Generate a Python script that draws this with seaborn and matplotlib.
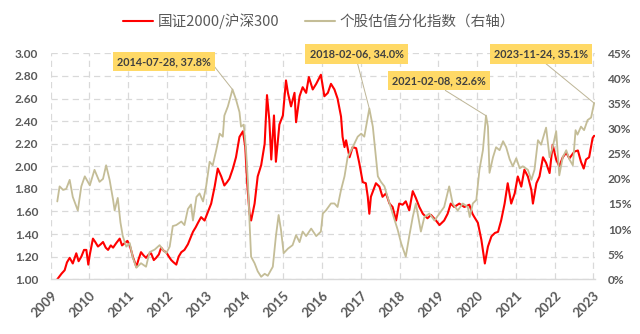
import numpy as np
import pandas as pd
import matplotlib
matplotlib.use("Agg")
import matplotlib.pyplot as plt
import seaborn as sns
from matplotlib.lines import Line2D

sns.set_theme(style="white")
plt.rcParams['font.family'] = ['Lato', 'Noto Sans CJK SC', 'DejaVu Sans']

# ---------------- data (fractional years) ----------------
red_t = [2010.05, 2010.16, 2010.24, 2010.30, 2010.37, 2010.45, 2010.54, 2010.60, 2010.67, 2010.74,
         2010.80, 2010.85, 2010.89, 2010.97, 2011.03, 2011.10, 2011.17, 2011.23, 2011.30, 2011.36,
         2011.43, 2011.49, 2011.57, 2011.66, 2011.72, 2011.79, 2011.86, 2011.92, 2012.00, 2012.09,
         2012.15, 2012.21, 2012.28, 2012.34, 2012.41, 2012.47, 2012.54, 2012.60, 2012.67, 2012.73,
         2012.80, 2012.86, 2012.93, 2012.99, 2013.05, 2013.12, 2013.18, 2013.25, 2013.33, 2013.42,
         2013.48, 2013.55, 2013.62, 2013.68, 2013.76, 2013.85, 2013.93, 2014.02, 2014.11, 2014.19,
         2014.28, 2014.36, 2014.43, 2014.49, 2014.58, 2014.66, 2014.75, 2014.84, 2014.90, 2014.95,
         2015.01, 2015.05, 2015.14, 2015.22, 2015.31, 2015.40, 2015.46, 2015.52, 2015.57, 2015.64,
         2015.69, 2015.78, 2015.87, 2015.95, 2016.00, 2016.08, 2016.17, 2016.21, 2016.30, 2016.38,
         2016.47, 2016.54, 2016.64, 2016.73, 2016.85, 2016.94, 2017.03, 2017.11, 2017.20, 2017.28,
         2017.37, 2017.41, 2017.46, 2017.50, 2017.59, 2017.67, 2017.76, 2017.84, 2017.93, 2018.01,
         2018.06, 2018.10, 2018.14, 2018.27, 2018.36, 2018.44, 2018.53, 2018.62, 2018.70, 2018.79,
         2018.87, 2018.96, 2019.04, 2019.13, 2019.22, 2019.30, 2019.39, 2019.48, 2019.60, 2019.69,
         2019.82, 2019.91, 2020.03, 2020.12, 2020.20, 2020.29, 2020.42, 2020.55, 2020.68, 2020.76,
         2020.81, 2020.90, 2020.99, 2021.08, 2021.16, 2021.25, 2021.34, 2021.42, 2021.50, 2021.59,
         2021.67, 2021.76, 2021.85, 2021.93, 2022.02, 2022.10, 2022.19, 2022.28, 2022.32, 2022.41,
         2022.49, 2022.58, 2022.66, 2022.75, 2022.83, 2022.92, 2023.00, 2023.09, 2023.18, 2023.26,
         2023.39, 2023.48, 2023.56, 2023.63, 2023.69, 2023.77, 2023.86, 2023.90]
red_v = [1.00, 1.05, 1.08, 1.15, 1.19, 1.14, 1.23, 1.16, 1.20, 1.26,
         1.26, 1.13, 1.22, 1.36, 1.33, 1.29, 1.31, 1.33, 1.28, 1.26,
         1.30, 1.28, 1.32, 1.36, 1.30, 1.32, 1.34, 1.30, 1.20, 1.11,
         1.18, 1.24, 1.21, 1.19, 1.22, 1.23, 1.17, 1.19, 1.22, 1.28,
         1.25, 1.24, 1.20, 1.17, 1.15, 1.13, 1.20, 1.24, 1.26, 1.31,
         1.36, 1.42, 1.46, 1.50, 1.55, 1.52, 1.59, 1.67, 1.82, 1.98,
         1.91, 1.83, 1.86, 1.89, 1.98, 2.08, 2.26, 2.31, 2.17, 1.85,
         1.58, 1.52, 1.67, 1.91, 2.01, 2.20, 2.63, 2.41, 2.06, 2.45,
         2.04, 2.37, 2.45, 2.76, 2.65, 2.53, 2.65, 2.39, 2.62, 2.70,
         2.65, 2.79, 2.68, 2.73, 2.81, 2.62, 2.65, 2.73, 2.68, 2.60,
         2.44, 2.26, 2.17, 2.23, 2.08, 2.17, 2.16, 2.03, 1.86, 1.85,
         1.73, 1.58, 1.73, 1.85, 1.82, 1.73, 1.76, 1.67, 1.64, 1.52,
         1.67, 1.66, 1.69, 1.61, 1.78, 1.72, 1.64, 1.58, 1.54, 1.57,
         1.52, 1.48, 1.52, 1.58, 1.67, 1.64, 1.67, 1.64, 1.66, 1.58,
         1.55, 1.50, 1.35, 1.14, 1.29, 1.38, 1.41, 1.42, 1.52, 1.67,
         1.85, 1.67, 1.76, 1.91, 1.82, 1.97, 1.91, 1.79, 1.67, 1.85,
         1.91, 2.08, 2.03, 1.94, 2.19, 2.06, 2.00, 2.08, 2.12, 2.07,
         2.13, 2.14, 2.04, 1.98, 2.06, 2.08, 2.25, 2.27]

tan_t = [2010.05, 2010.11, 2010.20, 2010.28, 2010.37, 2010.45, 2010.58, 2010.67, 2010.76, 2010.89,
         2011.01, 2011.14, 2011.23, 2011.31, 2011.40, 2011.49, 2011.53, 2011.61, 2011.68, 2011.74,
         2011.83, 2011.92, 2012.00, 2012.09, 2012.21, 2012.34, 2012.43, 2012.56, 2012.69, 2012.77,
         2012.86, 2012.95, 2013.03, 2013.12, 2013.25, 2013.33, 2013.42, 2013.50, 2013.55, 2013.64,
         2013.72, 2013.81, 2013.89, 2013.98, 2014.06, 2014.15, 2014.24, 2014.32, 2014.36, 2014.45,
         2014.57, 2014.66, 2014.75, 2014.79, 2014.86, 2014.92, 2014.97, 2015.01, 2015.05, 2015.14,
         2015.22, 2015.31, 2015.40, 2015.48, 2015.61, 2015.69, 2015.76, 2015.82, 2015.89, 2016.00,
         2016.12, 2016.21, 2016.30, 2016.38, 2016.47, 2016.60, 2016.73, 2016.85, 2016.90, 2016.98,
         2017.11, 2017.20, 2017.28, 2017.37, 2017.46, 2017.54, 2017.67, 2017.80, 2017.89, 2017.97,
         2018.10, 2018.19, 2018.27, 2018.32, 2018.40, 2018.49, 2018.57, 2018.70, 2018.83, 2018.92,
         2019.04, 2019.13, 2019.22, 2019.30, 2019.43, 2019.52, 2019.65, 2019.78, 2019.91, 2020.03,
         2020.16, 2020.25, 2020.38, 2020.51, 2020.64, 2020.69, 2020.77, 2020.86, 2020.94, 2021.03,
         2021.11, 2021.16, 2021.20, 2021.29, 2021.37, 2021.46, 2021.55, 2021.63, 2021.72, 2021.80,
         2021.89, 2021.98, 2022.06, 2022.19, 2022.28, 2022.36, 2022.45, 2022.53, 2022.66, 2022.75,
         2022.83, 2022.92, 2023.00, 2023.09, 2023.18, 2023.26, 2023.35, 2023.42, 2023.47, 2023.56,
         2023.64, 2023.73, 2023.82, 2023.90]
tan_pct = [15.5, 18.5, 17.8, 18.0, 19.8, 16.4, 13.7, 18.5, 20.5, 18.7,
           21.8, 19.4, 20.0, 22.7, 19.8, 15.8, 13.7, 16.2, 11.3, 8.6,
           6.5, 7.2, 4.3, 2.3, 3.2, 2.5, 5.4, 5.9, 6.8, 5.9,
           5.2, 6.5, 10.6, 10.8, 11.5, 10.8, 14.0, 14.9, 11.7, 16.4,
           17.1, 15.5, 18.5, 23.4, 22.7, 25.7, 29.0, 28.4, 32.6, 34.4,
           37.8, 35.8, 33.3, 30.4, 30.8, 25.7, 19.1, 11.3, 4.5, 3.2,
           1.6, 0.5, 1.1, 0.7, 2.5, 8.6, 12.8, 9.9, 5.2, 6.1,
           6.8, 8.8, 7.4, 9.5, 8.6, 10.1, 8.6, 9.5, 13.1, 13.7,
           15.1, 15.1, 14.4, 17.8, 20.5, 24.3, 26.3, 28.4, 29.0, 28.4,
           34.0, 30.4, 24.3, 20.5, 19.4, 18.5, 16.4, 13.1, 9.9, 7.2,
           4.5, 8.6, 12.4, 15.1, 9.5, 12.4, 13.1, 11.7, 13.1, 14.4,
           18.5, 15.1, 13.7, 15.1, 14.4, 12.4, 15.1, 15.8, 21.8, 25.7,
           32.6, 30.4, 21.2, 24.3, 26.3, 25.7, 27.5, 26.3, 23.9, 22.5,
           24.1, 22.1, 22.5, 21.8, 19.8, 21.8, 27.7, 26.8, 30.2, 24.3,
           26.3, 29.5, 20.7, 24.3, 25.7, 23.9, 22.7, 29.7, 28.8, 30.4,
           29.7, 31.7, 32.2, 35.1]

year_labels = [str(y) for y in range(2009, 2024)]
left_ticks = [1.0, 1.2, 1.4, 1.6, 1.8, 2.0, 2.2, 2.4, 2.6, 2.8, 3.0]
right_ticks = [0, 5, 10, 15, 20, 25, 30, 35, 40, 45]

ann_dates = ["2014-07-28", "2018-02-06", "2021-02-08", "2023-11-24"]
ann_vals = [37.8, 34.0, 32.6, 35.1]

red_name = "国证2000/沪深300"
tan_name = "个股估值分化指数（右轴）"

# ---------------- styling ----------------
RED = "#FF0000"
TAN = "#C4BD97"
GRID = "#D9D9D9"
TXT = "#595959"
BOX = "#FFD966"

fig = plt.figure(figsize=(6.4, 3.34), dpi=100)
ax = fig.add_axes([0.0792, 0.1638, 0.851, 0.6766])
ax2 = ax.twinx()

df_red = pd.DataFrame({"t": red_t, "v": red_v})
df_tan = pd.DataFrame({"t": tan_t, "v": tan_pct})
sns.lineplot(data=df_red, x="t", y="v", ax=ax, color=RED, linewidth=1.5, legend=False)
sns.lineplot(data=df_tan, x="t", y="v", ax=ax2, color=TAN, linewidth=1.3, legend=False)

offset = 0.88
ax.set_xlim(2009 + offset, 2023 + offset + 0.05)
ax.set_ylim(1.0, 3.0)
ax2.set_ylim(0, 45)

ax.set_xticks([int(y) + offset for y in year_labels])
ax.set_xticklabels(year_labels, rotation=45, ha="right", rotation_mode="anchor")
ax.set_yticks(left_ticks)
ax.set_yticklabels([f"{v:.2f}" for v in left_ticks])
ax2.set_yticks(right_ticks)
ax2.set_yticklabels([f"{v}%" for v in right_ticks])

ax.set_xlabel("")
ax.set_ylabel("")
ax2.set_ylabel("")

dash = (0, (5, 3.5))
ax.grid(True, axis="both", color=GRID, linestyle=dash, linewidth=0.9)
ax.set_axisbelow(True)
ax2.grid(False)

for s in ["top", "left", "right"]:
    ax.spines[s].set_visible(False)
    ax2.spines[s].set_visible(False)
ax2.spines["bottom"].set_visible(False)
ax.spines["bottom"].set_color(GRID)
ax.spines["bottom"].set_linewidth(1.0)

ax.tick_params(axis="y", length=0, pad=9, labelsize=8.6, labelcolor=TXT)
ax.tick_params(axis="x", length=0, pad=7, labelsize=9.5, labelcolor=TXT)
ax2.tick_params(axis="y", length=0, pad=9, labelsize=8.6, labelcolor=TXT)
for lab in ax.get_xticklabels() + ax.get_yticklabels() + ax2.get_yticklabels():
    lab.set_fontweight("bold")

# ---------------- annotations ----------------
box_pos = [(163.7, 272.3), (356.5, 280.0), (438.7, 253.2), (540.8, 280.0)]
relpos = [(1.0, 0.5), (0.5, 0.0), (0.5, 0.0), (0.5, 0.0)]
for d, v, pos, rp in zip(ann_dates, ann_vals, box_pos, relpos):
    ts = pd.Timestamp(d)
    t = ts.year + (ts.dayofyear - 1) / 365.0
    ax2.annotate(f"{d}, {v:.1f}%", xy=(t, v), xytext=pos, textcoords="figure pixels",
                 ha="center", va="center", fontsize=7.8, fontweight="bold", color="#404040",
                 bbox=dict(boxstyle="square,pad=0.38", fc=BOX, ec="none"),
                 arrowprops=dict(arrowstyle="-", color="#BDB596", lw=0.7, relpos=rp,
                                 shrinkA=0, shrinkB=0),
                 zorder=10)

# ---------------- legend ----------------
handles = [Line2D([], [], color=RED, lw=1.5), Line2D([], [], color=TAN, lw=1.5)]
leg = fig.legend(handles, [red_name, tan_name], loc="center", bbox_to_anchor=(319 / 640, 0.937),
                 ncol=2, frameon=False, handlelength=2.05, handletextpad=0.3, columnspacing=1.8,
                 prop=dict(family=["Noto Sans CJK SC", "DejaVu Sans"], size=10.5))
for txt in leg.get_texts():
    txt.set_color(TXT)

fig.savefig("out.png", dpi=100)
